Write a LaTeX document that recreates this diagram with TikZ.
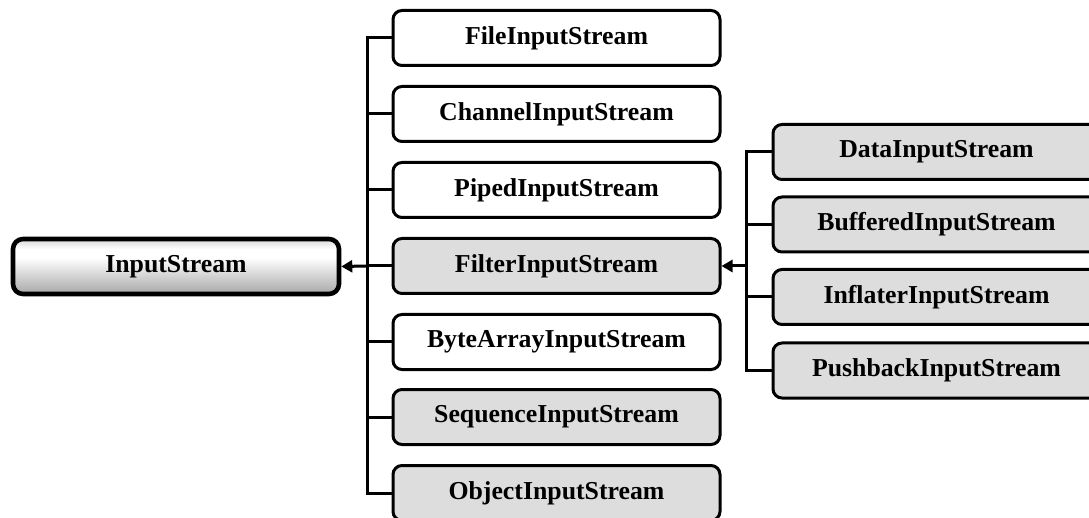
\documentclass[tikz,border=0pt]{standalone}
\usepackage{fontspec}
\setmainfont{Liberation Serif}
\usetikzlibrary{arrows.meta}
\definecolor{boxgray}{HTML}{DDDDDD}
\definecolor{shtop}{HTML}{A0A0A0}
\definecolor{shbot}{HTML}{858585}
\pgfdeclareverticalshading{isshade}{100bp}{color(0bp)=(shbot); color(12bp)=(shbot); color(58bp)=(white); color(66bp)=(white); color(88bp)=(shtop); color(100bp)=(shtop)}
\tikzset{
  cls/.style={draw=black, line width=3pt, rounded corners=9pt, minimum width=327pt, minimum height=55pt, inner sep=0pt, font=\fontsize{25.8pt}{28pt}\selectfont\bfseries, text=black},
  whitebox/.style={cls, fill=white},
  graybox/.style={cls, fill=boxgray},
  rootbox/.style={cls, line width=4.6pt, rounded corners=10pt, minimum width=326pt, minimum height=55pt, shading=isshade},
  conn/.style={draw=black, line width=3pt},
  arr/.style={conn, -{Triangle[length=11pt,width=12pt]}}
}
\begin{document}
\begin{tikzpicture}[x=1pt,y=-1pt]
\useasboundingbox (0,0) rectangle (1089,518);
\clip (0,0) rectangle (1089,518);
\node[rootbox] (input) at (176,266.5) {InputStream};
\node[whitebox] (file) at (556.5,38) {FileInputStream};
\node[whitebox] (channel) at (556.5,114) {ChannelInputStream};
\node[whitebox] (piped) at (556.5,190) {PipedInputStream};
\node[graybox] (filter) at (556.5,266) {FilterInputStream};
\node[whitebox] (bytearray) at (556.5,342) {ByteArrayInputStream};
\node[graybox] (sequence) at (556.5,417) {SequenceInputStream};
\node[graybox] (object) at (556.5,493) {ObjectInputStream};
\node[graybox] (data) at (936.5,152) {DataInputStream};
\node[graybox] (buffered) at (936.5,224.5) {BufferedInputStream};
\node[graybox] (inflater) at (936.5,297) {InflaterInputStream};
\node[graybox] (pushback) at (936.5,370.5) {PushbackInputStream};
\coordinate (lt) at (367,266);
\coordinate (rt) at (746,266);
\draw[conn] (lt) |- (file.west);
\draw[conn] (lt) |- (channel.west);
\draw[conn] (lt) |- (piped.west);
\draw[conn] (lt) -- (filter.west);
\draw[conn] (lt) |- (bytearray.west);
\draw[conn] (lt) |- (sequence.west);
\draw[conn] (lt) |- (object.west);
\draw[arr] (lt) -- (input.east);
\draw[conn] (rt) |- (data.west);
\draw[conn] (rt) |- (buffered.west);
\draw[conn] (rt) |- (inflater.west);
\draw[conn] (rt) |- (pushback.west);
\draw[arr] (rt) -- (filter.east);
\end{tikzpicture}
\end{document}
